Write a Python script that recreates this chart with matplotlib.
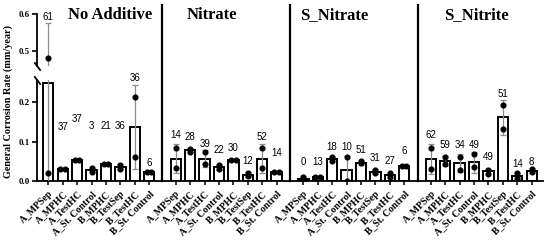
import matplotlib
matplotlib.use("Agg")
import matplotlib.pyplot as plt
import matplotlib.transforms as mtrans
import numpy as np

# ---------------- data ----------------
panels = ["No Additive", "Nitrate", "S_Nitrate", "S_Nitrite"]
categories = ["A_MPSep", "A_MPHC", "A_TestHC", "A_St. Control",
              "B_MPHC", "B_TestSep", "B_TestHC", "B_St. Control"]

means_no_additive = [0.250, 0.031, 0.053, 0.028, 0.042, 0.036, 0.138, 0.022]
means_nitrate     = [0.057, 0.078, 0.057, 0.035, 0.053, 0.016, 0.057, 0.023]
means_s_nitrate   = [0.005, 0.010, 0.056, 0.027, 0.046, 0.024, 0.014, 0.039]
means_s_nitrite   = [0.056, 0.051, 0.046, 0.048, 0.025, 0.162, 0.013, 0.026]

sd_no_additive = [0.325, 0.002, 0.002, 0.005, 0.002, 0.006, 0.107, 0.001]
sd_nitrate     = [0.037, 0.005, 0.022, 0.006, 0.002, 0.006, 0.037, 0.001]
sd_s_nitrate   = [0.007, 0.001, 0.006, 0.036, 0.006, 0.006, 0.007, 0.001]
sd_s_nitrite   = [0.037, 0.013, 0.022, 0.027, 0.006, 0.044, 0.007, 0.006]

points_no_additive = [[0.02, 0.48], [0.031, 0.031], [0.053, 0.053], [0.032, 0.024],
                      [0.042, 0.042], [0.041, 0.031], [0.213, 0.062], [0.022, 0.022]]
points_nitrate     = [[0.083, 0.032], [0.082, 0.075], [0.073, 0.042], [0.041, 0.031],
                      [0.053, 0.053], [0.021, 0.012], [0.083, 0.032], [0.023, 0.023]]
points_s_nitrate   = [[0.011, 0.000], [0.010, 0.010], [0.061, 0.052], [0.061, 0.000],
                      [0.052, 0.045], [0.029, 0.020], [0.021, 0.010], [0.039, 0.039]]
points_s_nitrite   = [[0.083, 0.031], [0.061, 0.042], [0.061, 0.029], [0.068, 0.035],
                      [0.029, 0.018], [0.194, 0.133], [0.020, 0.008], [0.031, 0.022]]

labels_no_additive = ["61", "37", "37", "3", "21", "36", "36", "6"]
labels_nitrate     = ["14", "28", "39", "22", "30", "12", "52", "14"]
labels_s_nitrate   = ["0", "13", "18", "10", "51", "31", "27", "6"]
labels_s_nitrite   = ["62", "59", "34", "49", "49", "51", "14", "8"]

# heights (data units) at which the annotation numbers sit
label_h_no_additive = [0.591, 0.137, 0.157, 0.139, 0.139, 0.139, 0.262, 0.047]
label_h_nitrate     = [0.116, 0.112, 0.093, 0.078, 0.085, 0.050, 0.112, 0.072]
label_h_s_nitrate   = [0.049, 0.049, 0.087, 0.087, 0.078, 0.059, 0.050, 0.076]
label_h_s_nitrite   = [0.118, 0.091, 0.091, 0.091, 0.061, 0.222, 0.044, 0.049]

means = [means_no_additive, means_nitrate, means_s_nitrate, means_s_nitrite]
sds = [sd_no_additive, sd_nitrate, sd_s_nitrate, sd_s_nitrite]
points = [points_no_additive, points_nitrate, points_s_nitrate, points_s_nitrite]
labels = [labels_no_additive, labels_nitrate, labels_s_nitrate, labels_s_nitrite]
label_h = [label_h_no_additive, label_h_nitrate, label_h_s_nitrate, label_h_s_nitrite]

# ---------------- style ----------------
SERIF = ["Liberation Serif", "DejaVu Serif"]
SANS = ["Liberation Sans", "DejaVu Sans"]
panel_step = 8.85
title_offsets = [4.28, 2.51, 2.13, 3.13]
bar_w = 0.72
low_top = 0.258
up_lim = (0.4583, 0.6)

fig = plt.figure(figsize=(5.5, 2.42), dpi=100)
ax_lo = fig.add_axes([37/550, 61/242, 506/550, (181-79.6)/242])
ax_hi = fig.add_axes([37/550, (242-66)/242, 506/550, 52/242], sharex=ax_lo)

n = len(categories)
xall, ticklabels = [], []
for p in range(len(panels)):
    xs = np.arange(n) + p * panel_step
    xall.extend(xs)
    ticklabels.extend(categories)
    for ax in (ax_lo, ax_hi):
        ax.bar(xs, means[p], width=bar_w, color="white", edgecolor="black",
               linewidth=1.4, zorder=2)
        ax.errorbar(xs, means[p], yerr=sds[p], fmt="none", ecolor="#8a8a8a",
                    elinewidth=0.9, capsize=2.2, capthick=0.9, zorder=3)
        for i in range(n):
            a, b = points[p][i]
            if abs(a - b) < 0.006:
                px = [xs[i] - 0.16, xs[i] + 0.16]
            else:
                px = [xs[i], xs[i]]
            ax.plot(px, [a, b], "o", color="black", markersize=3.4, zorder=4,
                    linestyle="none")
    for i in range(n):
        h = label_h[p][i]
        tax = ax_hi if h > 0.4 else ax_lo
        tax.text(xs[i], h, labels[p][i], ha="center", va="center", fontsize=7,
                 family=SANS, clip_on=False, zorder=5)
    ax_hi.text(p * panel_step + title_offsets[p], 0.6 - 0.003, panels[p],
               ha="center", va="center", fontsize=12, fontweight="bold",
               family=SERIF, clip_on=False)

xmin = -0.785
xmax = (len(panels) - 1) * panel_step + n - 1 + 0.785
ax_lo.set_xlim(xmin, xmax)
ax_lo.set_ylim(0, low_top)
ax_hi.set_ylim(*up_lim)

# separators between panels
trans = mtrans.blended_transform_factory(ax_lo.transData, fig.transFigure)
for p in range(1, len(panels)):
    xsep = (p * panel_step + (p - 1) * panel_step + n - 1) / 2
    fig.add_artist(plt.Line2D([xsep, xsep], [61/242, (242-5)/242], transform=trans,
                              color="black", linewidth=1.6))

# spines / ticks
for ax in (ax_lo, ax_hi):
    ax.spines["right"].set_visible(False)
    ax.spines["top"].set_visible(False)
    ax.spines["left"].set_linewidth(1.3)
    ax.patch.set_alpha(0)
ax_hi.spines["bottom"].set_visible(False)
ax_hi.tick_params(axis="x", bottom=False, labelbottom=False)
ax_lo.spines["bottom"].set_linewidth(1.3)

ax_lo.set_yticks([0.0, 0.1, 0.2])
ax_hi.set_yticks([0.5, 0.6])
for ax in (ax_lo, ax_hi):
    ax.tick_params(axis="y", length=3.5, width=1.2, pad=1.5, labelsize=6.3)
    for t in ax.get_yticklabels():
        t.set_fontfamily(SERIF)
        t.set_fontweight("bold")
    ax.yaxis.set_major_formatter(matplotlib.ticker.FormatStrFormatter("%.1f"))

ax_lo.set_xticks(xall)
ax_lo.set_xticklabels(ticklabels, rotation=45, ha="right", rotation_mode="anchor",
                      fontsize=7, fontweight="bold", family=SERIF)
ax_lo.tick_params(axis="x", length=3, width=1.1, pad=3)

# axis break marks
kw = dict(marker=[(-1, 1.3), (1, -1.3)], markersize=6, linestyle="none",
          color="black", mec="black", mew=1.3, clip_on=False)
ax_hi.plot([0], [0], transform=ax_hi.transAxes, **kw)
ax_lo.plot([0], [1], transform=ax_lo.transAxes, **kw)

fig.text(8/550, 1 - 102/242, "General Corrosion Rate (mm/year)", rotation=90,
         ha="center", va="center", fontsize=7.3, fontweight="bold", family=SERIF)

fig.savefig("out.png", dpi=100)
